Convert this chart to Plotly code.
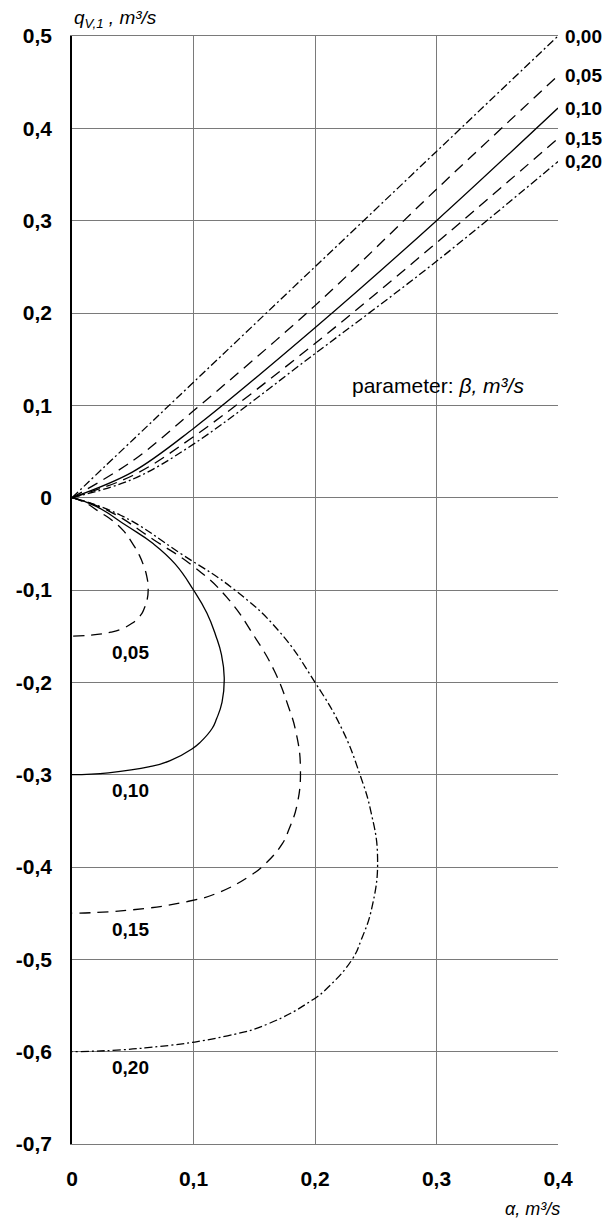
import plotly.graph_objects as go

# ---- data ----
beta_labels = ["0,00", "0,05", "0,10", "0,15", "0,20"]

alpha_up = [0, 0.05, 0.1, 0.2, 0.3, 0.4]
q_up_000 = [0, 0.0625, 0.125, 0.25, 0.375, 0.5]
q_up_005 = [0, 0.040, 0.094, 0.208, 0.334, 0.457]
q_up_010 = [0, 0.028, 0.075, 0.184, 0.300, 0.422]
q_up_015 = [0, 0.024, 0.066, 0.167, 0.276, 0.389]
q_up_020 = [0, 0.020, 0.058, 0.156, 0.256, 0.364]

a_low_005 = [0, 0.01, 0.0225, 0.0335, 0.0425, 0.05, 0.0555, 0.0593, 0.0615, 0.0627,
             0.0618, 0.0595, 0.0577, 0.0528, 0.0494, 0.0404, 0.032, 0.015, 0]
q_low_005 = [0, -0.0048, -0.0153, -0.025, -0.036, -0.05, -0.0625, -0.075, -0.085, -0.0975,
             -0.1108, -0.1198, -0.125, -0.1325, -0.1361, -0.1425, -0.1457, -0.149, -0.15]
a_low_010 = [0, 0.02, 0.045, 0.067, 0.085, 0.1, 0.111, 0.1185, 0.123, 0.1253,
             0.1235, 0.119, 0.1153, 0.1055, 0.0987, 0.0808, 0.064, 0.03, 0]
q_low_010 = [0, -0.0095, -0.0305, -0.05, -0.072, -0.1, -0.125, -0.15, -0.17, -0.195,
             -0.2215, -0.2395, -0.25, -0.265, -0.2722, -0.2849, -0.2914, -0.298, -0.3]
a_low_015 = [0, 0.03, 0.0675, 0.1005, 0.1275, 0.15, 0.1665, 0.1778, 0.1845, 0.188,
             0.1853, 0.1785, 0.173, 0.1583, 0.148, 0.1212, 0.096, 0.045, 0]
q_low_015 = [0, -0.0143, -0.0458, -0.075, -0.108, -0.15, -0.1875, -0.225, -0.255, -0.2925,
             -0.3323, -0.3593, -0.375, -0.3975, -0.4083, -0.4274, -0.4371, -0.447, -0.45]
a_low_020 = [0, 0.04, 0.09, 0.134, 0.17, 0.2, 0.222, 0.237, 0.246, 0.2515,
             0.247, 0.238, 0.2306, 0.211, 0.1974, 0.1616, 0.128, 0.06, 0]
q_low_020 = [0, -0.019, -0.061, -0.1, -0.144, -0.2, -0.25, -0.3, -0.34, -0.39,
             -0.443, -0.479, -0.5, -0.53, -0.5444, -0.5698, -0.5828, -0.596, -0.6]

x_ticks = [0, 0.1, 0.2, 0.3, 0.4]
x_ticktext = ["0", "0,1", "0,2", "0,3", "0,4"]
y_ticks = [0.5, 0.4, 0.3, 0.2, 0.1, 0, -0.1, -0.2, -0.3, -0.4, -0.5, -0.6, -0.7]
y_ticktext = ["0,5", "0,4", "0,3", "0,2", "0,1", "0", "-0,1", "-0,2", "-0,3", "-0,4", "-0,5", "-0,6", "-0,7"]

# ---- styles ----
DASH = "11px,7px"
DASHDOT = "8px,3px,2px,3px"
LW = 1.3
FONT = "Liberation Sans, Arial, sans-serif"

upper = [q_up_000, q_up_005, q_up_010, q_up_015, q_up_020]
up_styles = [DASHDOT, DASH, "solid", DASH, DASHDOT]
lower = [(a_low_005, q_low_005), (a_low_010, q_low_010), (a_low_015, q_low_015), (a_low_020, q_low_020)]
low_styles = [DASH, "solid", DASH, DASHDOT]

fig = go.Figure()
for q, st in zip(upper, up_styles):
    fig.add_trace(go.Scatter(x=alpha_up, y=q, mode="lines",
                             line=dict(color="black", width=LW, dash=st, shape="spline", smoothing=1.0),
                             showlegend=False, hoverinfo="skip"))
for (a, q), st in zip(lower, low_styles):
    fig.add_trace(go.Scatter(x=a, y=q, mode="lines",
                             line=dict(color="black", width=LW, dash=st, shape="spline", smoothing=1.3),
                             showlegend=False, hoverinfo="skip"))

ann = []
# right-side labels at ends of upper curves
for lab, q in zip(beta_labels, upper):
    ann.append(dict(x=alpha_up[-1], y=q[-1], xref="x", yref="y", text="<b>" + lab + "</b>",
                    showarrow=False, xanchor="left", yanchor="middle", xshift=5,
                    font=dict(family=FONT, size=19, color="black")))
# labels below lower loop ends
for lab, (a, q) in zip(beta_labels[1:], lower):
    ann.append(dict(x=0.048, y=q[-1], xref="x", yref="y", text="<b>" + lab + "</b>",
                    showarrow=False, xanchor="center", yanchor="middle", yshift=-16,
                    font=dict(family=FONT, size=19, color="black")))
ann.append(dict(x=0.2289, y=0.121, xref="x", yref="y", text="parameter: <i>β, m³/s</i>",
                showarrow=False, xanchor="left", yanchor="middle",
                font=dict(family=FONT, size=21, color="black")))
ann.append(dict(x=0, y=1, xref="paper", yref="paper",
                text="<i>q</i><sub><i>V,1</i></sub><i> , m³/s</i>",
                showarrow=False, xanchor="left", yanchor="bottom", yshift=3,
                font=dict(family=FONT, size=19, color="black")))
ann.append(dict(x=1, y=0, xref="paper", yref="paper", text="<i>α, m³/s</i>",
                showarrow=False, xanchor="right", yanchor="top", xshift=4, yshift=-53,
                font=dict(family=FONT, size=18, color="black")))

fig.update_layout(
    width=610, height=1225,
    margin=dict(l=72, r=52, t=36, b=81),
    paper_bgcolor="white", plot_bgcolor="white",
    annotations=ann,
    font=dict(family=FONT, color="black"),
)
fig.update_xaxes(range=[0, 0.4], tickvals=x_ticks, ticktext=["<b>" + t + "</b>" for t in x_ticktext],
                 tickfont=dict(family=FONT, size=21, color="black"),
                 showgrid=True, gridcolor="#7a7a7a", gridwidth=1.2, zeroline=False,
                 showline=True, linecolor="#7a7a7a", linewidth=1.2, mirror=True,
                 ticks="", ticklabelstandoff=16)
fig.update_yaxes(range=[-0.7, 0.5], tickvals=y_ticks, ticktext=["<b>" + t + "</b>" for t in y_ticktext],
                 tickfont=dict(family=FONT, size=21, color="black"),
                 showgrid=True, gridcolor="#7a7a7a", gridwidth=1.2, zeroline=False,
                 showline=True, linecolor="black", linewidth=1.5,
                 ticks="", ticklabelstandoff=14)

fig.write_html("out.html")
